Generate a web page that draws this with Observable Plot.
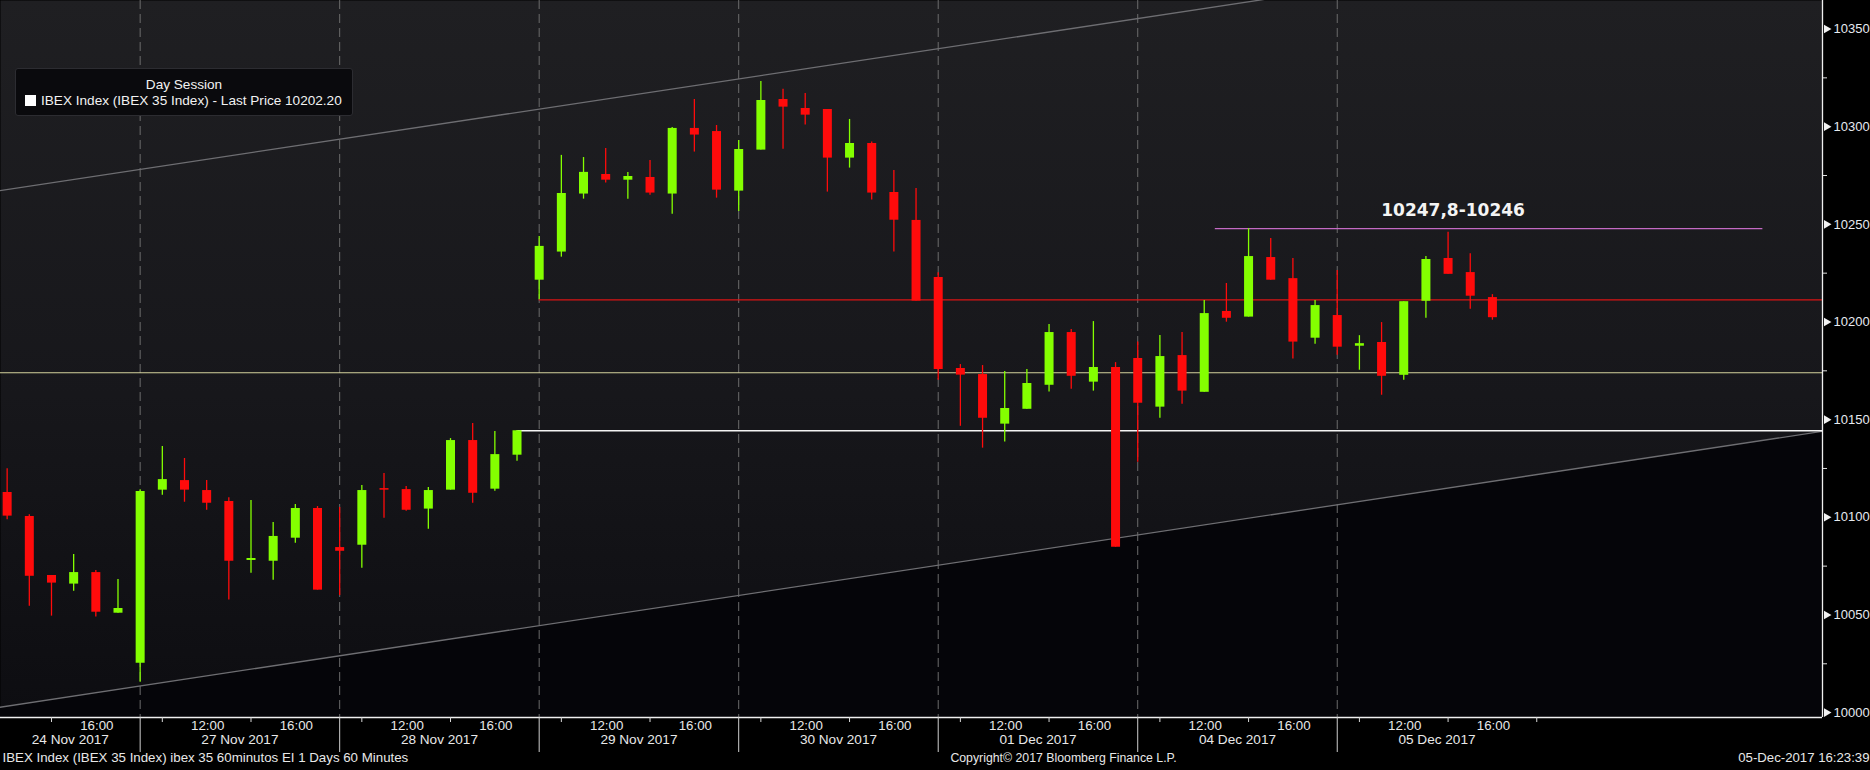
<!DOCTYPE html>
<html>
<head>
<meta charset="utf-8">
<script src="https://cdn.jsdelivr.net/npm/d3@7"></script>
<script src="https://cdn.jsdelivr.net/npm/@observablehq/plot@0.6"></script>
<style>
  html, body { margin: 0; padding: 0; background: #000; }
  #wrap { position: relative; width: 1870px; height: 770px; overflow: hidden; background: #000; }
  #legend { position: absolute; left: 15px; top: 68px; width: 338px; height: 48px; box-sizing: border-box;
            background: #0a0a0d; border: 1px solid #2c2c31; border-radius: 3px; color: #f2f2f2;
            font: 13.6px "Liberation Sans", Arial, sans-serif; }
  #legend .t1 { position: absolute; left: 0; width: 100%; top: 8px; text-align: center; }
  #legend .sq { position: absolute; left: 9px; top: 26px; width: 11px; height: 11px; background: #fff; }
  #legend .t2 { position: absolute; left: 25px; top: 24px; white-space: nowrap; }
</style>
</head>
<body>
<div id="wrap"></div>
<script>
// ---------- data ----------
const dates = ["24 Nov 2017", "27 Nov 2017", "28 Nov 2017", "29 Nov 2017", "30 Nov 2017", "01 Dec 2017", "04 Dec 2017", "05 Dec 2017"];
const fullDay = [9, 10, 11, 12, 13, 14, 15, 16, 17];
const sessionHours = [
  [12, 13, 14, 15, 16, 17],
  fullDay, fullDay, fullDay, fullDay, fullDay, fullDay,
  [9, 10, 11, 12, 13, 14, 15, 16]
];
const labelHours = [12, 16];
const minorTickHours = [10, 14];

const open = [10112.7, 10100.4, 10070.2, 10065.8, 10071.7, 10050.9,
  10025.3, 10113.9, 10118.8, 10113.7, 10108.1, 10077.9, 10077.5, 10089.3, 10104.5,
  10084.5, 10085.7, 10114.7, 10114.2, 10104.2, 10113.9, 10139.3, 10114.4, 10131.8,
  10221.4, 10235.8, 10265.5, 10275.5, 10272.6, 10274.0, 10265.5, 10299.1, 10297.5,
  10267.0, 10288.0, 10313.9, 10309.3, 10308.8, 10283.9, 10291.4, 10266.3, 10252.0,
  10222.8, 10176.2, 10173.1, 10147.7, 10155.3, 10167.6, 10194.6, 10169.2, 10176.7,
  10181.3, 10156.4, 10182.8, 10164.0, 10205.4, 10202.5, 10233.0, 10222.2, 10191.7,
  10203.3, 10187.6, 10189.5, 10172.7, 10210.6, 10232.5, 10225.3, 10212.5];
const high = [10124.8, 10101.3, 10070.2, 10080.9, 10072.7, 10068.1,
  10114.1, 10136.2, 10130.1, 10118.8, 10110.0, 10108.6, 10097.3, 10106.5, 10105.5,
  10105.0, 10116.3, 10122.4, 10115.8, 10115.2, 10140.3, 10148.0, 10143.9, 10144.3,
  10243.8, 10285.3, 10284.2, 10288.8, 10276.6, 10282.7, 10299.6, 10313.9, 10300.6,
  10292.9, 10323.1, 10319.1, 10317.0, 10308.8, 10303.7, 10292.1, 10277.6, 10268.4,
  10225.2, 10178.2, 10177.7, 10174.6, 10175.7, 10198.7, 10196.1, 10200.2, 10179.2,
  10189.8, 10193.1, 10194.6, 10211.0, 10219.7, 10247.8, 10242.7, 10232.5, 10211.0,
  10226.3, 10193.0, 10199.7, 10210.4, 10233.5, 10246.0, 10235.0, 10214.0];
const low = [10098.7, 10054.5, 10049.4, 10062.2, 10048.9, 10050.9,
  10015.6, 10111.3, 10107.7, 10103.6, 10057.6, 10071.4, 10067.8, 10086.7, 10062.7,
  10059.9, 10073.9, 10099.5, 10103.1, 10093.9, 10113.9, 10107.2, 10113.4, 10128.7,
  10211.4, 10233.2, 10262.9, 10271.1, 10262.9, 10264.9, 10255.2, 10287.0, 10263.4,
  10256.6, 10288.0, 10288.5, 10300.8, 10266.5, 10278.8, 10262.4, 10235.8, 10210.7,
  10170.2, 10146.6, 10135.4, 10138.5, 10155.3, 10164.1, 10165.6, 10164.6, 10084.7,
  10128.2, 10150.7, 10157.9, 10164.0, 10199.9, 10202.5, 10221.4, 10181.0, 10188.6,
  10183.0, 10175.3, 10162.5, 10170.2, 10201.9, 10224.4, 10206.5, 10200.9];
const close = [10100.6, 10069.8, 10066.3, 10071.7, 10051.4, 10053.3,
  10113.2, 10119.3, 10113.9, 10107.2, 10077.5, 10078.9, 10090.2, 10104.5, 10062.7,
  10082.6, 10113.7, 10113.9, 10103.6, 10113.7, 10139.3, 10112.3, 10132.1, 10144.3,
  10238.7, 10265.8, 10276.6, 10272.6, 10274.5, 10266.0, 10299.1, 10295.7, 10267.5,
  10288.3, 10313.4, 10310.0, 10305.9, 10283.9, 10291.4, 10266.0, 10252.1, 10210.7,
  10175.7, 10172.8, 10150.7, 10155.7, 10168.5, 10194.6, 10172.2, 10176.7, 10084.7,
  10158.4, 10182.3, 10164.6, 10204.3, 10201.9, 10233.5, 10221.4, 10189.7, 10208.4,
  10187.1, 10188.9, 10172.2, 10210.4, 10232.0, 10224.4, 10213.2, 10202.2];

// horizontal levels (value, first bar index)
const yellowLevel = 10174.0;
const whiteLevel = 10144.3, whiteFromBar = 23;
const redLevel = 10211.3, redFromBar = 24;
const resistLevel = 10247.8, resistFrom = 54.5, resistTo = 79.2;
const annotationText = "10247,8-10246", annotationBar = 65;

// trend channel anchor points (bar index, value)
const upperChannelBar = [-1, 60], upperChannelVal = [10266.1, 10370.8];
const lowerChannelBar = [-1, 82], lowerChannelVal = [10001.6, 10144.2];

const yTicks = [10000, 10050, 10100, 10150, 10200, 10250, 10300, 10350];
const yMinorTicks = [10025, 10075, 10125, 10175, 10225, 10275, 10325];
const xDomain = [-0.3, 81.89];
const yDomain = [9997.5, 10364.6];

const legendTitle = "Day Session";
const legendText = "IBEX Index (IBEX 35 Index) - Last Price 10202.20";
const footerLeft = "IBEX Index (IBEX 35 Index) ibex 35 60minutos EI 1 Days 60 Minutes";
const footerCenter = "Copyright\u00A9 2017 Bloomberg Finance L.P.";
const footerRight = "05-Dec-2017 16:23:39";

// ---------- derived tables ----------
const GREEN = "#84ff00", RED = "#ff0b0b";
const bars = [];
dates.forEach((d, k) => sessionHours[k].forEach(h => bars.push({i: bars.length, date: d, hour: h, day: k})));
const candles = bars.map((b, i) => ({...b, o: open[i], h: high[i], l: low[i], c: close[i],
  col: close[i] >= open[i] ? GREEN : RED}));
const separators = bars.filter(b => b.hour === 9).map(b => b.i);
const nextSessionStart = bars.length + (9 - sessionHours[sessionHours.length - 1].length);
const dayCenters = dates.map((d, k) => {
  const first = bars.find(b => b.day === k).i;
  const start = k === 0 ? xDomain[0] : first;
  const end = k === 0 ? separators[0] : first + 9;
  return {date: d, x: (start + end) / 2};
});
const timeLabels = bars.filter(b => labelHours.includes(b.hour) && b.i > 0)
  .map(b => ({i: b.i, label: b.hour + ":00"}));
const minorX = bars.filter(b => minorTickHours.includes(b.hour)).map(b => b.i).concat([nextSessionStart]);
const upperChannel = upperChannelBar.map((x, k) => ({x, v: upperChannelVal[k]}));
const lowerChannel = lowerChannelBar.map((x, k) => ({x, v: lowerChannelVal[k]}));

const FONT = "'Liberation Sans', Arial, sans-serif";
const TXT = "#e8e8e8";

const chart = Plot.plot({
  width: 1870,
  height: 770,
  marginTop: 0, marginLeft: 0, marginRight: 48, marginBottom: 53,
  x: {type: "linear", domain: xDomain, axis: null},
  y: {type: "linear", domain: yDomain, axis: null},
  color: {type: "identity"},
  style: {background: "#000", color: TXT, fontFamily: FONT, fontSize: "13px"},
  marks: [
    Plot.frame({fill: "url(#bgGrad)", stroke: null}),
    Plot.areaY(lowerChannel, {x: "x", y1: yDomain[0], y2: "v", fill: "#050509", clip: true}),
    Plot.ruleX(separators, {stroke: "#6c6c6c", strokeWidth: 1, strokeDasharray: "9,5"}),
    Plot.line(upperChannel, {x: "x", y: "v", stroke: "#6e6e72", strokeWidth: 1.3, clip: true}),
    Plot.line(lowerChannel, {x: "x", y: "v", stroke: "#6e6e72", strokeWidth: 1.3, clip: true}),
    Plot.ruleY([yellowLevel], {stroke: "#d4d29c", strokeWidth: 1.2}),
    Plot.ruleY([whiteLevel], {x1: whiteFromBar, x2: xDomain[1], stroke: "#f4f4f4", strokeWidth: 1.5}),
    Plot.ruleY([redLevel], {x1: redFromBar, x2: xDomain[1], stroke: "#d91414", strokeWidth: 1.2}),
    Plot.ruleY([resistLevel], {x1: resistFrom, x2: resistTo, stroke: "#c46ac4", strokeWidth: 1.3}),
    // candles
    Plot.ruleX(candles, {x: "i", y1: "l", y2: "h", stroke: "col", strokeWidth: 1.3}),
    Plot.ruleX(candles, {x: "i", y1: "o", y2: "c", stroke: "col", strokeWidth: 9, strokeLinecap: "butt"}),
    // annotation
    Plot.text([annotationText], {x: annotationBar, y: resistLevel, text: d => d, dx: 5, dy: -18,
      fill: "#f4f4f4", fontSize: 17, fontWeight: "bold", fontFamily: "'DejaVu Sans', Verdana, sans-serif"}),
    // axes frame lines
    Plot.ruleX([xDomain[1]], {stroke: "#f0f0f0", strokeWidth: 1.3}),
    Plot.ruleY([yDomain[0]], {stroke: "#f0f0f0", strokeWidth: 1.3}),
    // y axis
    Plot.axisY({anchor: "right", ticks: yMinorTicks, tickSize: 4, tickFormat: () => "", stroke: "#e0e0e0"}),
    Plot.axisY({anchor: "right", ticks: yTicks, tickSize: 0, tickPadding: 11, tickFormat: d => String(d),
      fontSize: 13, fill: "#e6eaf0"}),
    Plot.dot(yTicks, {y: d => d, frameAnchor: "right", symbol: "triangle", rotate: 90, r: 3.2,
      fill: "#f2f2f2", stroke: null, dx: 4}),
    // x axis
    Plot.axisX({anchor: "bottom", ticks: minorX, tickSize: 5, tickFormat: () => "", stroke: "#d8d8d8"}),
    Plot.axisX({anchor: "bottom", ticks: separators, tickSize: 35, tickFormat: () => "", stroke: "#cfcfcf"}),
    Plot.text(timeLabels, {x: "i", text: "label", frameAnchor: "bottom", dy: 12, dx: 1, fontSize: 13.3, fill: TXT}),
    Plot.text(dayCenters, {x: "x", text: "date", frameAnchor: "bottom", dy: 26, fontSize: 13.6, fill: TXT}),
    // footer
    Plot.text([footerLeft], {text: d => d, frameAnchor: "bottom-left", textAnchor: "start", dx: 2, dy: 44, fontSize: 13.3, fill: TXT}),
    Plot.text([footerCenter], {text: d => d, frameAnchor: "bottom", dx: 152, dy: 44, fontSize: 12.3, fill: TXT}),
    Plot.text([footerRight], {text: d => d, frameAnchor: "bottom-right", textAnchor: "end", dx: 47, dy: 44, fontSize: 13.2, fill: TXT})
  ]
});

// background gradient for the plotting area
const ns = "http://www.w3.org/2000/svg";
const defs = document.createElementNS(ns, "defs");
defs.innerHTML = '<linearGradient id="bgGrad" x1="0" y1="0" x2="0" y2="1">' +
  '<stop offset="0" stop-color="#1f1f22"/><stop offset="0.55" stop-color="#17171b"/>' +
  '<stop offset="1" stop-color="#0d0d11"/></linearGradient>';
chart.insertBefore(defs, chart.firstChild);

const wrap = document.getElementById("wrap");
wrap.appendChild(chart);

const legend = document.createElement("div");
legend.id = "legend";
legend.innerHTML = `<div class="t1"></div><div class="sq"></div><div class="t2"></div>`;
legend.querySelector(".t1").textContent = legendTitle;
legend.querySelector(".t2").textContent = legendText;
wrap.appendChild(legend);
</script>
</body>
</html>
